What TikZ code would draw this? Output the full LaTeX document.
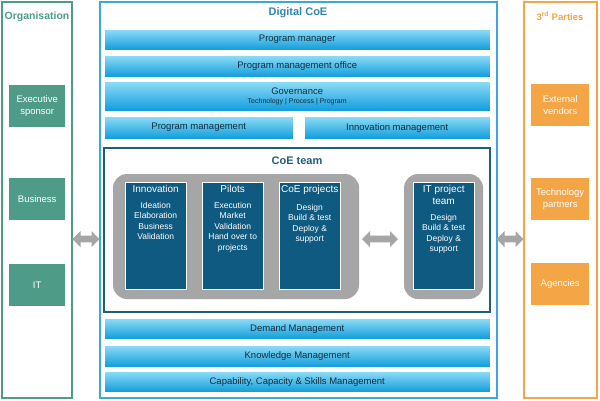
\documentclass[tikz,border=0pt]{standalone}
\usepackage{fontspec}
\setmainfont{Liberation Sans}
\usetikzlibrary{shapes.arrows,positioning}
\definecolor{orggreen}{HTML}{4E9C88}
\definecolor{coeblue}{HTML}{3AA8D8}
\definecolor{barTop}{HTML}{8FDDF7}
\definecolor{barBot}{HTML}{0E9BDB}
\definecolor{teamblue}{HTML}{1F5F7A}
\definecolor{boxblue}{HTML}{0F5A80}
\definecolor{partyorange}{HTML}{F4A546}
\definecolor{arrowgray}{HTML}{A6A6A6}
\begin{document}
\begin{tikzpicture}[x=1pt,y=-1pt]
  \tikzstyle{frame}=[draw,line width=1.5pt,fill=white]
  \tikzstyle{bar}=[draw=white,top color=barTop,bottom color=barBot,anchor=north west,
    inner sep=0pt,font=\fontsize{9.5}{10}\selectfont,text=teamblue!50!black]
  \tikzstyle{sidebox}=[anchor=north west,inner sep=0pt,text=white,align=center,
    minimum width=56pt,minimum height=42pt,font=\fontsize{9.5}{11.5}\selectfont]
  \tikzstyle{inbox}=[draw=white,fill=boxblue,anchor=north west,inner sep=0pt,
    minimum width=61pt,minimum height=107pt]
  \tikzstyle{intext}=[below=3pt,text=white,align=center,inner sep=0pt,
    font=\fontsize{8.5}{10.5}\selectfont]
  \tikzstyle{dbl}=[double arrow,fill=arrowgray,minimum height=27pt,minimum width=16pt,
    double arrow head extend=3pt,inner sep=2pt]
  \useasboundingbox (0,0) rectangle (600,400);
  % frames
  \draw[frame,draw=orggreen] (2,2) rectangle (72,398);
  \draw[frame,draw=coeblue] (100,2) rectangle (497,398);
  \draw[frame,draw=partyorange] (524,2) rectangle (597,398);
  \node[text=orggreen,font=\bfseries\fontsize{10.5}{12}\selectfont] (org) at (37,17) {Organisation};
  \node[text=coeblue!80!black,font=\bfseries\fontsize{11}{12}\selectfont] (coe) at (298,13) {Digital CoE};
  \node[text=partyorange,font=\bfseries\fontsize{9.5}{11}\selectfont] (third) at (560,16) {3\textsuperscript{rd} Parties};
  % organisation
  \foreach \y/\n/\t in {85/exec/Executive\\sponsor,178/business/Business,264/it/IT} {
    \node[sidebox,fill=orggreen] (\n) at (9,\y) {\t};
  }
  % 3rd parties
  \foreach \y/\n/\t in {84/vendors/External\\vendors,178/partners/Technology\\partners,263/agencies/Agencies} {
    \node[sidebox,fill=partyorange,minimum width=58pt] (\n) at (531,\y) {\t};
  }
  % bars
  \node[bar,minimum width=386pt,minimum height=21pt] (pm) at (104,29) {Program manager};
  \node[bar,minimum width=386pt,minimum height=22pt] (pmo) at (104,55) {Program management office};
  \node[bar,minimum width=386pt,minimum height=30pt,align=center] (gov) at (104,81)
    {Governance\\[-1pt]{\fontsize{7}{8}\selectfont Technology | Process | Program}};
  \node[bar,minimum width=189pt,minimum height=23pt] (progm) at (104,116) {Program management};
  \node[bar,minimum width=186pt,minimum height=23pt] (innm) at (304,116) {Innovation management};
  \node[bar,minimum width=386pt,minimum height=21pt] (demand) at (104,318) {Demand Management};
  \node[bar,minimum width=386pt,minimum height=22pt] (know) at (104,345) {Knowledge Management};
  \node[bar,minimum width=386pt,minimum height=21pt] (cap) at (104,371) {Capability, Capacity \& Skills Management};
  % CoE team
  \draw[draw=teamblue,line width=1.3pt] (104,148) rectangle (490,312);
  \node[text=teamblue,font=\bfseries\fontsize{11}{12}\selectfont] (team) at (297,161) {CoE team};
  \fill[arrowgray,rounded corners=14pt] (113,174) rectangle (359,299);
  \fill[arrowgray,rounded corners=14pt] (404,174) rectangle (483,299);
  \foreach \x/\n/\t/\s in {125/innov/Innovation/{Ideation\\Elaboration\\Business\\Validation},
      202/pilots/Pilots/{Execution\\Market\\Validation\\Hand over to\\projects},
      279/coep/CoE projects/{Design\\Build \& test\\Deploy \&\\support}} {
    \node[inbox] (\n) at (\x,182) {};
    \node[intext,font=\fontsize{10}{12}\selectfont] (\n t) at (\n.north) {\t};
    \node[intext,below=9pt of \n t] (\n d) {\s};
  }
  \node[inbox] (itteam) at (413,182) {};
  \node[intext,font=\fontsize{10}{12}\selectfont] (itteam t) at (itteam.north) {IT project\\team};
  \node[intext,below=9pt of itteam t] (itteam d) {Design\\Build \& test\\Deploy \&\\support};
  % arrows
  \node[dbl,minimum height=36pt] (a1) at (380,239) {};
  \node[dbl] (a2) at (86,239) {};
  \node[dbl] (a3) at (510,239) {};
\end{tikzpicture}
\end{document}
